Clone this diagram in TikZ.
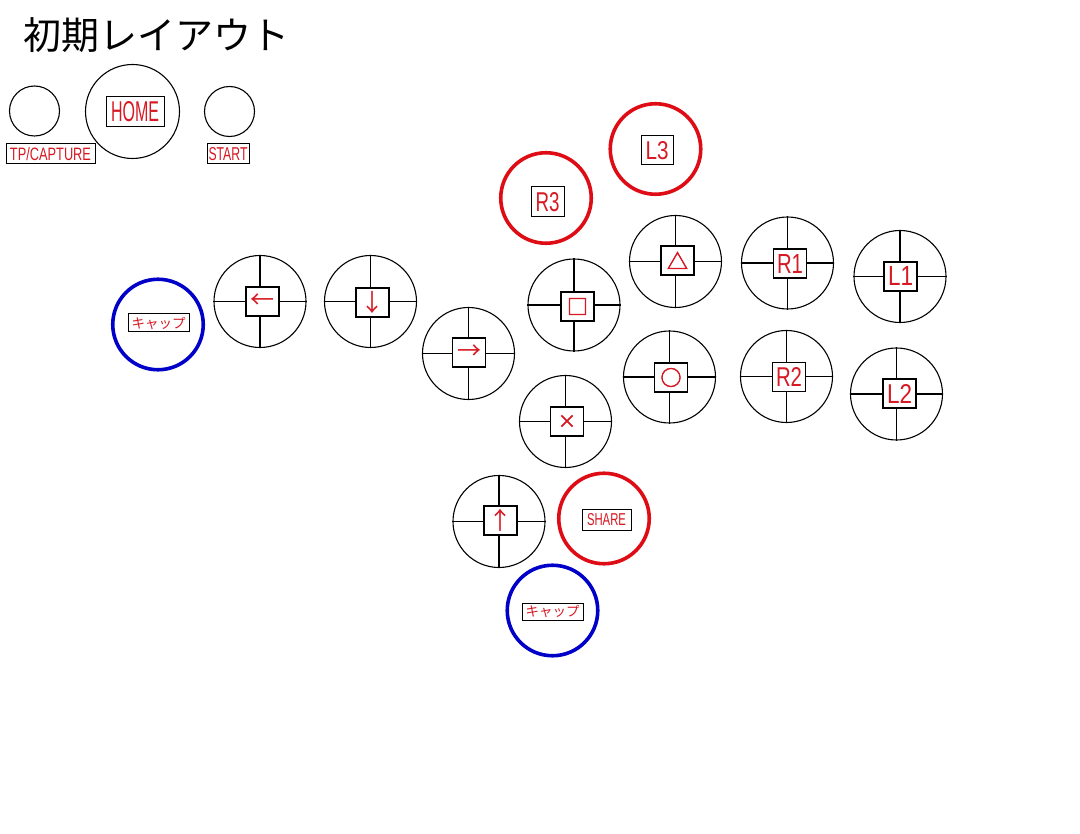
\documentclass[tikz,border=0pt]{standalone}
\usepackage{fontspec}
\usepackage{graphicx}
\newfontfamily\cjk{Noto Sans CJK JP}
\newfontfamily\cjkfb[FakeBold=2.5]{Noto Sans CJK JP}
\newfontfamily\lat{Liberation Sans}
\definecolor{kred}{RGB}{215,25,35}
\definecolor{ringred}{RGB}{222,12,20}
\definecolor{ringblue}{RGB}{0,0,200}
\newcommand\rs[3]{\resizebox{#1pt}{#2pt}{\lat #3}}
\newcommand\sym[1]{{\fontsize{24}{24}\selectfont\cjk #1}}
\newcommand\shp[2]{{\fontsize{#1}{#1}\selectfont\cjkfb #2}}
\newcommand\kata[1]{{\fontsize{13.5}{13.5}\selectfont\cjk #1}}
\newcommand\xbtn[4]{%
 \node[btn] (#1) at (#2) {};
 \draw[crossline] (#1.north) -- (#1.south) (#1.west) -- (#1.east);
 \node[keybox] (#1l) at (#3) {#4};
}
\begin{document}
\begin{tikzpicture}[x=1pt,y=-1pt,
 btn/.style={circle,draw=black,line width=1.1pt,minimum size=92pt,inner sep=0pt},
 ring/.style={circle,line width=3.6pt,minimum size=90.5pt,inner sep=0pt},
 redring/.style={ring,draw=ringred},
 bluering/.style={ring,draw=ringblue},
 smallbtn/.style={circle,draw=black,line width=1.1pt,minimum size=50pt,inner sep=0pt},
 bigbtn/.style={circle,draw=black,line width=1.1pt,minimum size=94pt,inner sep=0pt},
 crossline/.style={line width=1.1pt},
 keybox/.style={draw=black,fill=white,line width=1.1pt,inner sep=0pt,minimum width=33pt,minimum height=29pt,text=kred},
 lblbox/.style={draw=black,fill=white,line width=1pt,inner sep=0pt,text=kred},
]
\fill[white] (0,0) rectangle (1080,834);
\path[use as bounding box] (0,0) rectangle (1080,834);

% title
\node[anchor=base west,inner sep=0pt,font=\cjk\fontsize{38}{38}\selectfont] (title) at (23,50) {初期レイアウト};

% top buttons
\node[smallbtn] (tp) at (34.5,111) {};
\node[lblbox,minimum width=89pt,minimum height=20pt] (tpl) at (50.5,154) {\rs{81}{13}{TP/CAPTURE}};
\node[bigbtn] (home) at (132.5,111.5) {};
\node[lblbox,minimum width=58pt,minimum height=30pt] (homel) at (135,112) {\rs{48}{20}{HOME}};
\node[smallbtn] (start) at (229.5,111.5) {};
\node[lblbox,minimum width=42pt,minimum height=20pt] (startl) at (228,154) {\rs{39}{13}{START}};

% red rings
\node[redring] (r3) at (546,198) {};
\node[lblbox,minimum width=33pt,minimum height=30pt] (r3l) at (547.5,202) {\rs{24}{19}{R3}};
\node[redring] (l3) at (655.5,149) {};
\node[lblbox,minimum width=32pt,minimum height=29pt] (l3l) at (657,150.5) {\rs{23}{18}{L3}};
\node[redring] (share) at (604,518.5) {};
\node[lblbox,minimum width=49pt,minimum height=21pt] (sharel) at (606.5,519.5) {\rs{39}{12}{SHARE}};

% blue rings
\node[bluering] (cap1) at (158,324.5) {};
\node[lblbox,minimum width=61pt,minimum height=18pt] (cap1l) at (158.5,323) {\kata{キャップ}};
\node[bluering] (cap2) at (552.5,610.5) {};
\node[lblbox,minimum width=61pt,minimum height=17pt] (cap2l) at (552.5,611.5) {\kata{キャップ}};

% cross buttons
\xbtn{left}{260,301.5}{262.5,301.5}{\sym{←}}
\xbtn{down}{370.5,301.5}{372.5,302.5}{\sym{↓}}
\xbtn{right}{468.5,353.5}{469,352.5}{\sym{→}}
\xbtn{up}{499,521.5}{500.5,520.5}{\sym{↑}}
\xbtn{square}{574,305}{577.5,306.5}{\shp{21}{□}}
\xbtn{cross}{565.5,421.5}{567,421.5}{\shp{18}{×}}
\xbtn{tri}{675.5,261.5}{677.5,260.5}{\shp{21}{△}}
\xbtn{circ}{669.5,377}{671,377.5}{\shp{21}{○}}
\xbtn{ra}{787.5,263}{790,263.5}{\rs{26}{19}{R1}}
\xbtn{rb}{786.5,376.5}{789,377}{\rs{26}{19}{R2}}
\xbtn{la}{900,276.5}{900.5,276.5}{\rs{25}{19}{L1}}
\xbtn{lb}{896.5,394}{899.5,393.5}{\rs{25}{19}{L2}}
\end{tikzpicture}
\end{document}
